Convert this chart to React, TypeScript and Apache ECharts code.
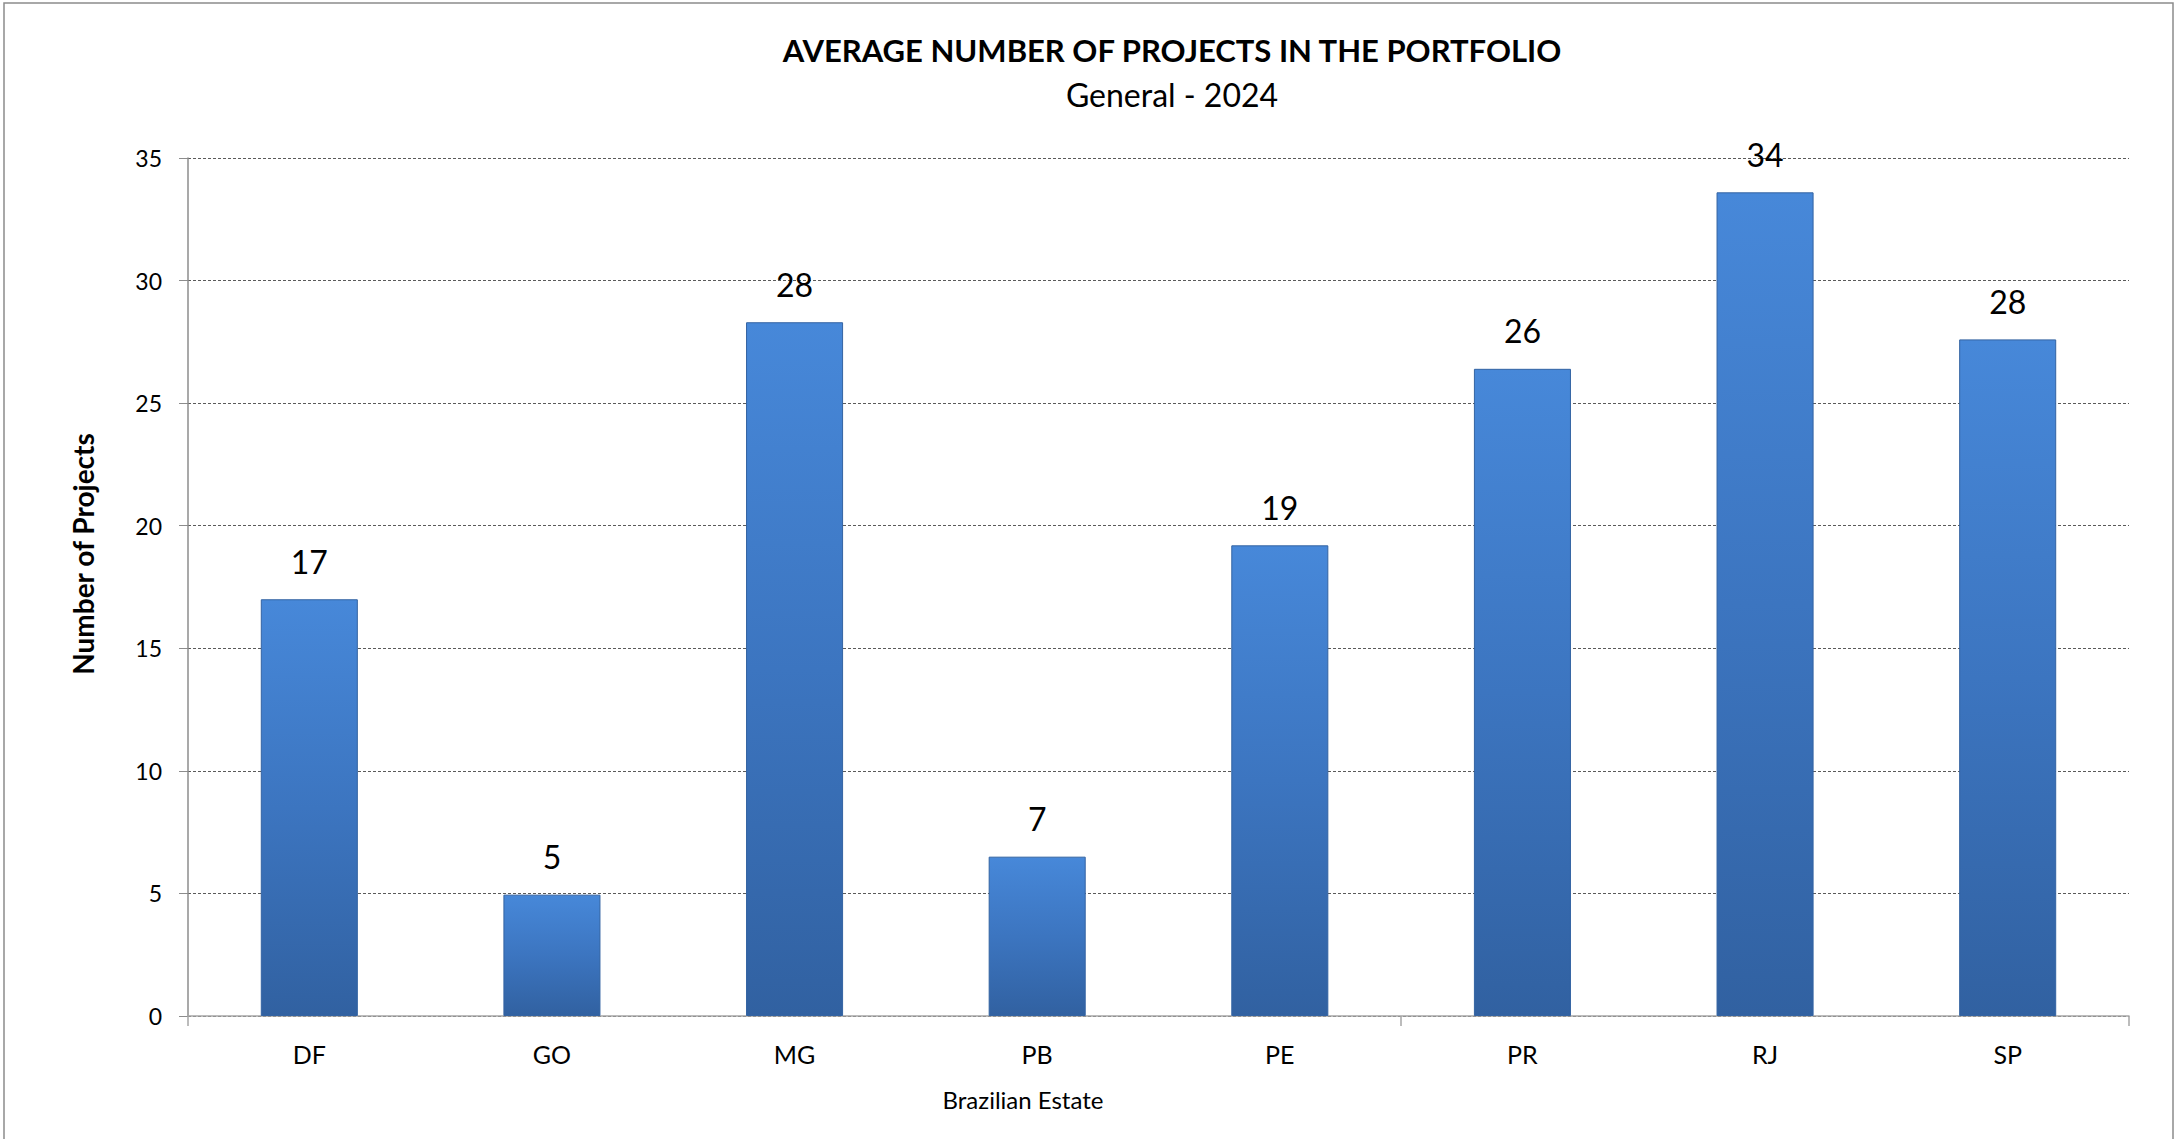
import React, { useEffect, useRef } from "react";
import * as echarts from "echarts";

const categories = ["DF", "GO", "MG", "PB", "PE", "PR", "RJ", "SP"];
const values = [17.0, 4.95, 28.3, 6.5, 19.2, 26.4, 33.6, 27.6];
const titleText = "AVERAGE NUMBER OF PROJECTS IN THE PORTFOLIO";
const subtitleText = "General - 2024";
const yAxisTitle = "Number of Projects";
const xAxisTitle = "Brazilian Estate";

const FONT = "Lato, 'Open Sans', sans-serif";

export default function App() {
  const ref = useRef<HTMLDivElement>(null);
  useEffect(() => {
    if (!ref.current) return;
    const chart = echarts.init(ref.current, null, { renderer: "svg" });
    chart.setOption({
      animation: false,
      backgroundColor: "#ffffff",
      textStyle: { fontFamily: FONT },
      title: {
        text: titleText,
        subtext: subtitleText,
        left: 1172,
        top: 34,
        textAlign: "center",
        padding: 0,
        itemGap: 13,
        textStyle: { fontFamily: FONT, fontSize: 31, fontWeight: "bold", color: "#000", lineHeight: 31 },
        subtextStyle: { fontFamily: FONT, fontSize: 32, fontWeight: "normal", color: "#000", lineHeight: 32 },
      },
      grid: { left: 188, right: 48, top: 158, bottom: 123, containLabel: false },
      xAxis: {
        type: "category",
        data: categories,
        axisLine: { show: true, lineStyle: { color: "#a6a6a6", width: 1.5 } },
        axisTick: {
          show: true,
          alignWithLabel: false,
          interval: (i: number) => i === 0 || i === 5,
          length: 10,
          lineStyle: { color: "#a6a6a6", width: 1.5 },
        },
        axisLabel: { color: "#000", fontSize: 25, fontFamily: FONT, margin: 25 },
        splitLine: { show: false },
      },
      yAxis: {
        type: "value",
        min: 0,
        max: 35,
        interval: 5,
        axisLine: { show: true, lineStyle: { color: "#8c8c8c", width: 1.5 } },
        axisTick: { show: true, length: 9, lineStyle: { color: "#8c8c8c", width: 1 } },
        axisLabel: { color: "#000", fontSize: 23, fontFamily: FONT, margin: 26 },
        splitLine: { show: true, lineStyle: { color: "#5a5a5a", width: 1, type: [3, 2] } },
      },
      series: [
        {
          type: "bar",
          data: values,
          barCategoryGap: "60%",
          itemStyle: {
            color: new echarts.graphic.LinearGradient(0, 0, 0, 1, [
              { offset: 0, color: "#4788d9" },
              { offset: 0.5, color: "#3c75c0" },
              { offset: 1, color: "#3161a1" },
            ]),
            borderColor: "#3363a2",
            borderWidth: 1,
          },
          label: {
            show: true,
            position: "top",
            distance: 22,
            color: "#000",
            fontSize: 32,
            fontFamily: FONT,
            formatter: (p: any) => String(Math.round(p.value)),
          },
        },
      ],
      graphic: [
        {
          type: "rect",
          shape: { x: 4, y: 3, width: 2169, height: 1150 },
          style: { fill: "none", stroke: "#8c8c8c", lineWidth: 1.5 },
          silent: true,
          z: -1,
        },
        {
          type: "text",
          x: 83,
          y: 554,
          rotation: Math.PI / 2,
          style: {
            text: yAxisTitle,
            fontFamily: FONT,
            fontSize: 28,
            fontWeight: "bold",
            fill: "#000",
            align: "center",
            verticalAlign: "middle",
          },
        },
        {
          type: "text",
          x: 1023,
          y: 1099,
          style: {
            text: xAxisTitle,
            fontFamily: FONT,
            fontSize: 24,
            fill: "#000",
            align: "center",
            verticalAlign: "middle",
          },
        },
      ],
    });
    return () => chart.dispose();
  }, []);
  return (
    <div
      ref={ref}
      style={{ position: "fixed", left: 0, top: 0, width: 2177, height: 1139, background: "#fff" }}
    />
  );
}
